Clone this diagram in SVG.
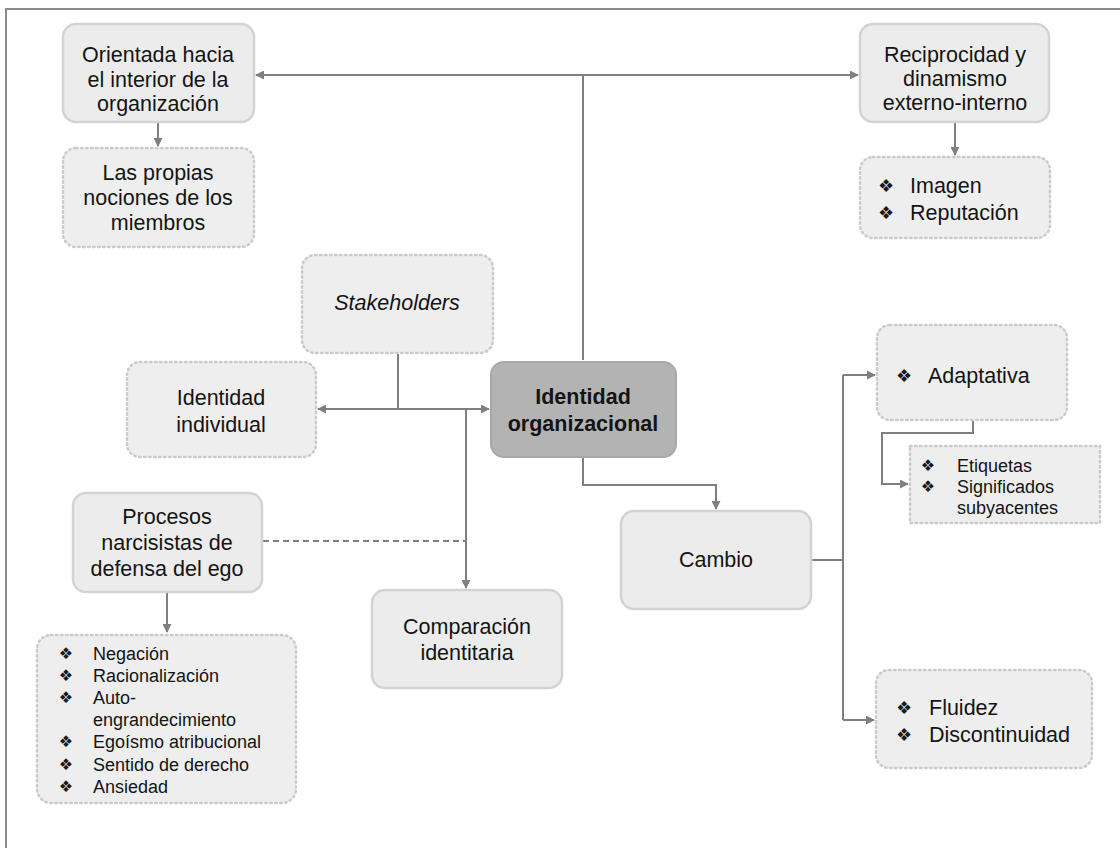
<svg xmlns="http://www.w3.org/2000/svg" width="1120" height="848" viewBox="0 0 1120 848">
  <defs>
    <marker id="arrow" viewBox="0 0 10 10" refX="9" refY="5" markerWidth="9" markerHeight="9" markerUnits="userSpaceOnUse" orient="auto">
      <path d="M0,0 L10,5 L0,10 Z" fill="#7f7f7f"/>
    </marker>
    <style>
      .solid { fill: #ececec; stroke: #d3d3d3; stroke-width: 2.5; }
      .dotted { fill: #eeeeee; stroke: #cbcbcb; stroke-width: 2.5; stroke-dasharray: 1.5 3.5; stroke-linecap: round; }
      .core { fill: #b3b3b3; stroke: #a8a8a8; stroke-width: 2; }
      .txt { font-family: "Liberation Sans", Arial, sans-serif; font-size: 21.5px; fill: #141414; text-anchor: middle; }
      .lft { font-family: "Liberation Sans", Arial, sans-serif; font-size: 21.5px; fill: #141414; }
      .sm { font-family: "Liberation Sans", Arial, sans-serif; font-size: 18px; fill: #141414; }
      .bul { font-family: "DejaVu Sans", sans-serif; font-size: 18px; fill: #1a1a1a; text-anchor: middle; }
      .bul-s { font-family: "DejaVu Sans", sans-serif; font-size: 16px; fill: #1a1a1a; text-anchor: middle; }
      .link { fill: none; stroke: #7f7f7f; stroke-width: 2; }
      .dash { fill: none; stroke: #7f7f7f; stroke-width: 2; stroke-dasharray: 6 4; }
    </style>
  </defs>

  <rect width="1120" height="848" fill="#ffffff"/>
  <!-- outer frame -->
  <rect x="6" y="9" width="1125" height="850" fill="none" stroke="#8a8a8a" stroke-width="2"/>

  <!-- connectors -->
  <g id="connectors">
    <path class="link" d="M583,360 V75"/>
    <path class="link" d="M583,75 H256" marker-end="url(#arrow)"/>
    <path class="link" d="M583,75 H858" marker-end="url(#arrow)"/>
    <path class="link" d="M158,122 V146" marker-end="url(#arrow)"/>
    <path class="link" d="M955,122 V155" marker-end="url(#arrow)"/>
    <path class="link" d="M398,354 V409"/>
    <path class="link" d="M398,409 H318" marker-end="url(#arrow)"/>
    <path class="link" d="M398,409 H489" marker-end="url(#arrow)"/>
    <path class="link" d="M466,409 V588" marker-end="url(#arrow)"/>
    <path class="dash" d="M263,541 H466"/>
    <path class="link" d="M167,593 V632" marker-end="url(#arrow)"/>
    <path class="link" d="M583,458 V485 H716 V509" marker-end="url(#arrow)"/>
    <path class="link" d="M812,560 H843"/>
    <path class="link" d="M843,375 V720"/>
    <path class="link" d="M843,375 H875" marker-end="url(#arrow)"/>
    <path class="link" d="M843,720 H874" marker-end="url(#arrow)"/>
    <path class="link" d="M973,421 V433 H882 V484 H908" marker-end="url(#arrow)"/>
  </g>

  <g id="orientada">
    <rect class="solid" x="63" y="24" width="191" height="98" rx="13"/>
    <text class="txt" x="158" y="62">Orientada hacia</text>
    <text class="txt" x="158" y="87">el interior de la</text>
    <text class="txt" x="158" y="111">organización</text>
  </g>

  <g id="nociones">
    <rect class="dotted" x="63" y="148" width="191" height="99" rx="13"/>
    <text class="txt" x="158" y="180">Las propias</text>
    <text class="txt" x="158" y="205">nociones de los</text>
    <text class="txt" x="158" y="230">miembros</text>
  </g>

  <g id="reciprocidad">
    <rect class="solid" x="860" y="24" width="189" height="98" rx="13"/>
    <text class="txt" x="955" y="62">Reciprocidad y</text>
    <text class="txt" x="955" y="86">dinamismo</text>
    <text class="txt" x="955" y="110">externo-interno</text>
  </g>

  <g id="imagen">
    <rect class="dotted" x="860" y="157" width="190" height="81" rx="13"/>
    <text class="bul" x="886" y="192">❖</text>
    <text class="lft" x="910" y="193">Imagen</text>
    <text class="bul" x="886" y="219">❖</text>
    <text class="lft" x="910" y="220">Reputación</text>
  </g>

  <g id="stakeholders">
    <rect class="dotted" x="302" y="255" width="191" height="98" rx="13"/>
    <text class="txt" x="397" y="310" font-style="italic">Stakeholders</text>
  </g>

  <g id="individual">
    <rect class="dotted" x="127" y="362" width="189" height="95" rx="13"/>
    <text class="txt" x="221" y="405">Identidad</text>
    <text class="txt" x="221" y="432">individual</text>
  </g>

  <g id="organizacional">
    <rect class="core" x="491" y="362" width="185" height="95" rx="13"/>
    <text class="txt" x="583" y="404" font-weight="bold">Identidad</text>
    <text class="txt" x="583" y="431" font-weight="bold">organizacional</text>
  </g>

  <g id="adaptativa">
    <rect class="dotted" x="877" y="325" width="190" height="95" rx="13"/>
    <text class="bul" x="904" y="382">❖</text>
    <text class="lft" x="928" y="383">Adaptativa</text>
  </g>

  <g id="etiquetas">
    <rect class="dotted" x="910" y="446" width="190" height="77"/>
    <text class="bul-s" x="928" y="471">❖</text>
    <text class="sm" x="957" y="472">Etiquetas</text>
    <text class="bul-s" x="928" y="492">❖</text>
    <text class="sm" x="957" y="493">Significados</text>
    <text class="sm" x="957" y="514">subyacentes</text>
  </g>

  <g id="procesos">
    <rect class="solid" x="73" y="493" width="189" height="99" rx="13"/>
    <text class="txt" x="167" y="524">Procesos</text>
    <text class="txt" x="167" y="550">narcisistas de</text>
    <text class="txt" x="167" y="576">defensa del ego</text>
  </g>

  <g id="cambio">
    <rect class="solid" x="621" y="511" width="190" height="98" rx="13"/>
    <text class="txt" x="716" y="567">Cambio</text>
  </g>

  <g id="comparacion">
    <rect class="solid" x="372" y="590" width="190" height="98" rx="13"/>
    <text class="txt" x="467" y="634">Comparación</text>
    <text class="txt" x="467" y="660">identitaria</text>
  </g>

  <g id="fluidez">
    <rect class="dotted" x="876" y="670" width="216" height="98" rx="13"/>
    <text class="bul" x="904" y="714">❖</text>
    <text class="lft" x="929" y="715">Fluidez</text>
    <text class="bul" x="904" y="741">❖</text>
    <text class="lft" x="929" y="742">Discontinuidad</text>
  </g>

  <g id="defensas">
    <rect class="dotted" x="37" y="635" width="259" height="168" rx="14"/>
    <text class="bul-s" x="66" y="659">❖</text>
    <text class="sm" x="93" y="660">Negación</text>
    <text class="bul-s" x="66" y="681">❖</text>
    <text class="sm" x="93" y="682">Racionalización</text>
    <text class="bul-s" x="66" y="703">❖</text>
    <text class="sm" x="93" y="704">Auto-</text>
    <text class="sm" x="93" y="726">engrandecimiento</text>
    <text class="bul-s" x="66" y="747">❖</text>
    <text class="sm" x="93" y="748">Egoísmo atribucional</text>
    <text class="bul-s" x="66" y="770">❖</text>
    <text class="sm" x="93" y="771">Sentido de derecho</text>
    <text class="bul-s" x="66" y="792">❖</text>
    <text class="sm" x="93" y="793">Ansiedad</text>
  </g>
</svg>
